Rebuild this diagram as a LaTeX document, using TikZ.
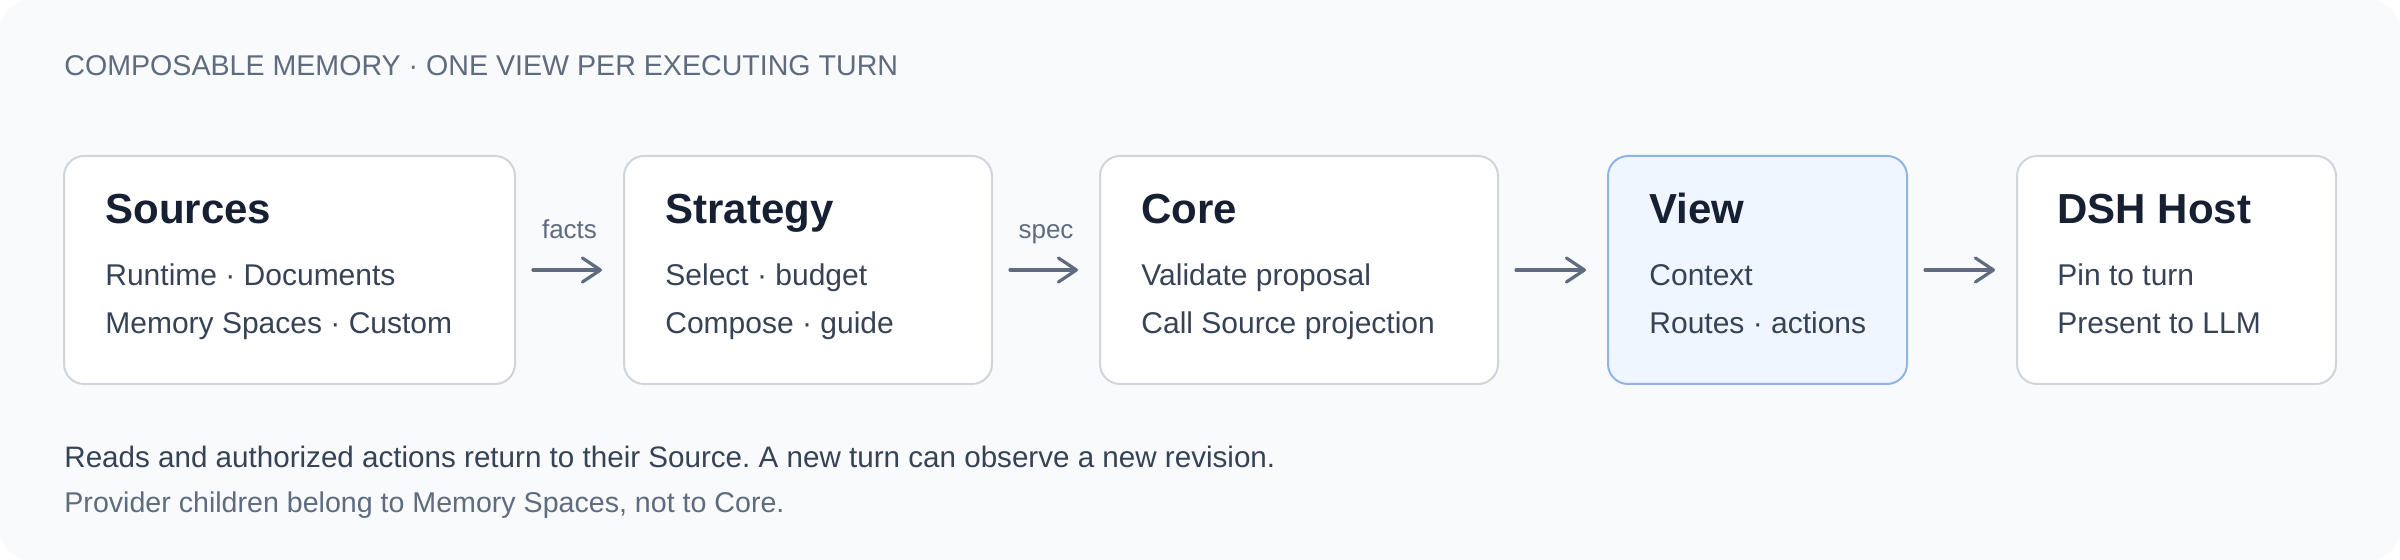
\documentclass[tikz,border=0pt]{standalone}
\usepackage{fontspec}
\setmainfont{Liberation Sans}
\usetikzlibrary{arrows.meta}
\frenchspacing

\definecolor{Panel}{HTML}{F8FAFC}
\definecolor{Edge}{HTML}{D1D5DB}
\definecolor{ViewFill}{HTML}{EFF6FF}
\definecolor{ViewEdge}{HTML}{8FB4EA}
\definecolor{Ink}{HTML}{172033}
\definecolor{Body}{HTML}{364255}
\definecolor{Muted}{HTML}{5F6B7E}

\tikzstyle{Box} = [draw=Edge,
                   fill=white,
                   line width=1pt,
                   rounded corners=10pt,
                   minimum height=114pt,
                   inner sep=0pt]
\tikzstyle{Head} = [anchor=base west, inner sep=0pt, text=Ink,
                    font=\fontsize{21}{24}\selectfont\bfseries]
\tikzstyle{Line} = [anchor=base west, inner sep=0pt, text=Body,
                    font=\fontsize{15}{18}\selectfont]
\tikzstyle{Tag} = [anchor=base, inner sep=0pt, text=Muted,
                   font=\fontsize{13}{15}\selectfont]
\tikzstyle{Flow} = [-{Straight Barb[length=9pt, width=12pt, round]},
                    draw=Muted, line width=1.6pt, line cap=round,
                    shorten <=8.5pt, shorten >=10.5pt]

\begin{document}
\begin{tikzpicture}[x=0.5pt, y=-0.5pt]

	% Panel
	\useasboundingbox (0,0) rectangle (2400,560);
	\fill[Panel, rounded corners=15pt] (0,0) rectangle (2400,560);

	\node(title) at (64, 76) [anchor=base west, inner sep=0pt, text=Muted, font=\fontsize{14.3}{16}\selectfont]{COMPOSABLE MEMORY · ONE VIEW PER EXECUTING TURN};

	% Box nodes
	\node(sources) at (289.5, 270) [Box, minimum width=225.5pt]{};
	\node(strategy) at (808, 270) [Box, minimum width=184pt]{};
	\node(core) at (1299, 270) [Box, minimum width=199pt]{};
	\node(view) at (1757.5, 270) [Box, draw=ViewEdge, fill=ViewFill, minimum width=149.5pt]{};
	\node(host) at (2176.5, 270) [Box, minimum width=159.5pt]{};

	% Box texts
	\node(sourcesHead) at (105, 224) [Head]{Sources};
	\node(sourcesA) at (105, 286) [Line]{Runtime · Documents};
	\node(sourcesB) at (105, 334) [Line]{Memory Spaces · Custom};

	\node(strategyHead) at (665, 224) [Head]{Strategy};
	\node(strategyA) at (665, 286) [Line]{Select · budget};
	\node(strategyB) at (665, 334) [Line]{Compose · guide};

	\node(coreHead) at (1141, 224) [Head]{Core};
	\node(coreA) at (1141, 286) [Line]{Validate proposal};
	\node(coreB) at (1141, 334) [Line]{Call Source projection};

	\node(viewHead) at (1649, 224) [Head]{View};
	\node(viewA) at (1649, 286) [Line]{Context};
	\node(viewB) at (1649, 334) [Line]{Routes · actions};

	\node(hostHead) at (2057, 224) [Head]{DSH Host};
	\node(hostA) at (2057, 286) [Line]{Pin to turn};
	\node(hostB) at (2057, 334) [Line]{Present to LLM};

	% Lines
	\draw [Flow] (sources) -- node[Tag, yshift=15.5pt]{facts} (strategy);
	\draw [Flow] (strategy) -- node[Tag, yshift=15.5pt]{spec} (core);
	\draw [Flow] (core) -- (view);
	\draw [Flow] (view) -- (host);

	% Notes
	\node(noteA) at (64, 468) [Line, font=\fontsize{14.8}{18}\selectfont]{Reads and authorized actions return to their Source. A new turn can observe a new revision.};
	\node(noteB) at (64, 513) [anchor=base west, inner sep=0pt, text=Muted, font=\fontsize{14.3}{16}\selectfont]{Provider children belong to Memory Spaces, not to Core.};

\end{tikzpicture}
\end{document}
